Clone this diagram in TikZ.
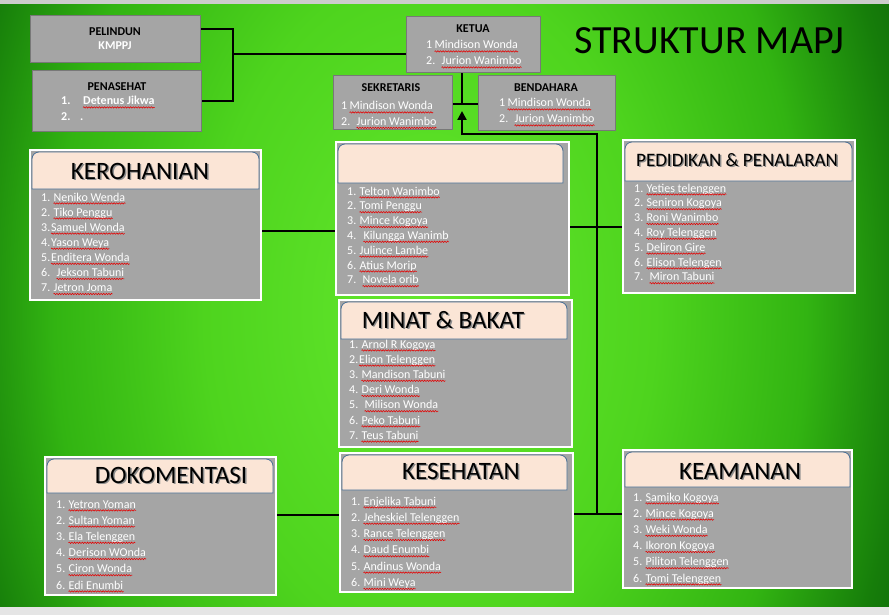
\documentclass[tikz,border=0pt]{standalone}
\usepackage{fontspec}
\setmainfont{Carlito}
\usetikzlibrary{arrows.meta,decorations.pathmorphing}
\definecolor{bgdark}{RGB}{10,88,8}
\definecolor{bgmid1}{RGB}{22,125,10}
\definecolor{bgmid2}{RGB}{50,180,18}
\definecolor{bgmid3}{RGB}{78,212,30}
\definecolor{bglight}{RGB}{100,232,45}
\definecolor{boxgray}{RGB}{165,165,165}
\definecolor{boxedge}{RGB}{120,120,120}
\definecolor{headpink}{RGB}{251,229,214}
\definecolor{headblue}{RGB}{70,110,150}
\definecolor{shadowgray}{RGB}{140,140,140}
\pgfdeclareradialshading{bgshade}{\pgfpoint{0bp}{0bp}}{color(0bp)=(bglight); color(12bp)=(bgmid3); color(20bp)=(bgmid2); color(25.5bp)=(bgmid1); color(30.5bp)=(bgdark); color(50bp)=(bgdark)}
\pgfdeclarelayer{back}
\pgfdeclarelayer{lnk}
\pgfsetlayers{back,lnk,main}
\tikzset{
  smallbox/.style={draw=boxedge, line width=0.8pt, fill=boxgray, inner sep=0pt, outer sep=0pt, anchor=north west},
  panelbox/.style={draw=white, line width=2pt, fill=boxgray, inner sep=0pt, outer sep=0pt, anchor=north west},
  headbox/.style={draw=headblue, line width=0.8pt, fill=headpink},
  ttlmain/.style={text=black, inner sep=0pt},
  ttlshade/.style={text=shadowgray, inner sep=0pt},
  itemtext/.style={font=\fontsize{12}{14}\selectfont, text=white, inner sep=0pt, anchor=base west},
  stitle/.style={font=\bfseries\fontsize{12}{14}\selectfont, text=black, inner sep=0pt},
  boldwhite/.style={font=\bfseries\fontsize{12}{14}\selectfont, text=white, inner sep=0pt, anchor=base west},
  wavy/.style={red!90!black, line width=0.55pt, decorate, decoration={snake, amplitude=0.7pt, segment length=2.6pt}},
  linkline/.style={line width=2.6pt, black},
}
\newcommand\mkpanel[7]{%
  \node[panelbox, minimum width={(#4-#2)*1pt}, minimum height={(#5-#3)*1pt}] (#1) at (#2,#3) {};
  \draw[headbox] (#2+2,#6) -- (#2+2,#3+9) to[out=90,in=180] (#2+9,#3+2) -- (#7-7,#3+2) to[out=0,in=90] (#7,#3+9) -- (#7,#6) -- cycle;
}
\newcommand\mktitle[5]{%
  \node[ttlshade, font=\fontsize{#4}{#4}\selectfont] (#1s) at (#2+1.4,#3+1.4) {#5};
  \node[ttlmain, font=\fontsize{#4}{#4}\selectfont] (#1) at (#2,#3) {#5};
}
\newcommand\mklist[5]{%
  \foreach \inum/\igap/\itxt [count=\ii] in {#5} {%
    \node[itemtext] (#1n\ii) at (#2,{#3+4+(\ii-1)*#4}) {\inum};
    \node[itemtext] (#1t\ii) at ([xshift=\igap pt]#1n\ii.base east) {\itxt};
    \draw[wavy] ([yshift=-2.4pt]#1t\ii.base west) -- ([yshift=-2.4pt]#1t\ii.base east);
  }%
}
\begin{document}
\begin{tikzpicture}[x=1pt,y=-1pt]
\useasboundingbox (0,0) rectangle (889,615);
\begin{pgfonlayer}{back}
  \fill[bgdark] (0,0) rectangle (889,615);
  \begin{scope}
    \clip (0,0) rectangle (889,615);
    \begin{scope}[transform canvas={shift={(430,310)}, yscale=1.5}]
      \shade[shading=bgshade] (-470,-470) rectangle (470,470);
    \end{scope}
  \end{scope}
  \fill[gray!40] (0,0) rectangle (889,4);
  \fill[gray!20] (0,607) rectangle (889,615);
\end{pgfonlayer}

% title
\node[ttlmain, font=\fontsize{40}{40}\selectfont] (title) at (709,41) {STRUKTUR MAPJ};

% top small boxes
\node[smallbox, minimum width=170pt, minimum height=47pt] (pel) at (30,15) {};
\node[smallbox, minimum width=169pt, minimum height=61pt] (pen) at (32,70) {};
\node[smallbox, minimum width=134pt, minimum height=56pt] (ket) at (406,16) {};
\node[smallbox, minimum width=119pt, minimum height=54pt] (sek) at (333,75) {};
\node[smallbox, minimum width=137pt, minimum height=55pt] (ben) at (478,75) {};

\node[stitle] (pelt) at (115,32) {PELINDUN};
\node[stitle, text=white] (pelk) at (115,46) {KMPPJ};
\node[stitle] (pent) at (117,87) {PENASEHAT};
\node[boldwhite] (pn1) at (61,105) {1.};
\node[boldwhite] (pn1t) at (83,105) {Detenus Jikwa};
\draw[wavy] ([yshift=-2.4pt]pn1t.base west) -- ([yshift=-2.4pt]pn1t.base east);
\node[boldwhite] (pn2) at (61,121) {2.};
\node[boldwhite] (pn2t) at (80,121) {.};

\node[stitle] (kett) at (473,29) {KETUA};
\mklist{ket}{426}{45}{16}{1/2/Mindison Wonda, 2./6/Jurion Wanimbo}
\node[stitle] (sekt) at (391,88) {SEKRETARIS};
\begin{scope}
  \clip (333,75) rectangle (452,129);
  \mklist{sek}{341}{106}{15.5}{1/2/Mindison Wonda, 2./6/Jurion Wanimbo}
\end{scope}
\node[stitle] (bent) at (546,88) {BENDAHARA};
\mklist{ben}{499}{103}{16}{1/2/Mindison Wonda, 2./6/Jurion Wanimbo}

% panels
\mkpanel{ker}{30}{150}{261}{300}{189}{259}
\mkpanel{mid}{336}{142}{569}{295}{183}{563}
\mkpanel{ped}{623}{140}{855}{293}{181}{852}
\mkpanel{min}{339}{300}{572}{447}{339}{567}
\mkpanel{dok}{45}{457}{276}{595}{493}{273}
\mkpanel{kes}{340}{453}{573}{592}{490}{567}
\mkpanel{kea}{623}{450}{852}{588}{487}{850}

\mktitle{kert}{140}{171}{25}{KEROHANIAN}
\mktitle{pedt}{737}{160}{19}{PEDIDIKAN \& PENALARAN}
\mktitle{mint}{443}{320}{25}{MINAT \& BAKAT}
\mktitle{dokt}{171}{475}{25}{DOKOMENTASI}
\mktitle{kest}{461}{471}{25}{KESEHATAN}
\mktitle{keat}{740}{471}{25}{KEAMANAN}

\mklist{kl}{41}{197}{15.1}{1./3/Neniko Wenda, 2./3/Tiko Penggu, 3./0.5/Samuel Wonda, 4./0.5/Yason Weya, 5./0.5/Enditera Wonda, 6./6/Jekson Tabuni, 7./3/Jetron Joma}
\mklist{ml}{347}{191}{14.8}{1./3/Telton Wanimbo, 2./3/Tomi Penggu, 3./3/Mince Kogoya, 4./7/Kilungga Wanimb, 5./3/Julince Lambe, 6./3/Atius Morip, 7./6/Novela orib}
\mklist{pl}{634}{188}{14.8}{1./3/Yeties telenggen, 2./3/Seniron Kogoya, 3./3/Roni Wanimbo, 4./3/Roy Telenggen, 5./3/Deliron Gire, 6./3/Elison Telengen, 7./6/Miron Tabuni}
\mklist{bl}{349}{344}{15.2}{1./3/Arnol R Kogoya, 2./0.5/Elion Telenggen, 3./3/Mandison Tabuni, 4./3/Deri Wonda, 5./6/Milison Wonda, 6./3/Peko Tabuni, 7./3/Teus Tabuni}
\mklist{dl}{56}{504}{16.2}{1./3/Yetron Yoman, 2./3/Sultan Yoman, 3./3/Ela Telenggen, 4./3/Derison WOnda, 5./3/Ciron Wonda, 6./3/Edi Enumbi}
\mklist{sl}{351}{501}{16.3}{1./3/Enjelika Tabuni, 2./3/Jeheskiel Telenggen, 3./3/Rance Telenggen, 4./3/Daud Enumbi, 5./3/Andinus Wonda, 6./3/Mini Weya}
\mklist{al}{633}{497}{16.2}{1./3/Samiko Kogoya, 2./3/Mince Kogoya, 3./3/Weki Wonda, 4./3/Ikoron Kogoya, 5./3/Piliton Telenggen, 6./3/Tomi Telenggen}

% connectors
\begin{pgfonlayer}{lnk}
  \coordinate (j1) at (233,54);
  \draw[linkline] (pel.east |- 0,29) -| (j1) |- (pen.east |- 0,101);
  \draw[linkline] (j1) -- (ket.west |- j1);
  \coordinate (tb) at (462,104);
  \draw[linkline] (ket.south -| tb) -- (tb);
  \draw[linkline] (sek.east |- tb) -- (ben.west |- tb);
  \coordinate (jb) at (597,514);
  \draw[linkline, -{Triangle[length=9pt,width=9pt]}] (jb) |- (462,134) -- (462,111);
  \draw[linkline] (ker.east |- 0,231) -- (mid.west |- 0,231);
  \draw[linkline] (mid.east |- 0,227) -- (ped.west |- 0,227);
  \draw[linkline] (dok.east |- 0,515) -- (kes.west |- 0,515);
  \draw[linkline] (kes.east |- 0,514) -- (kea.west |- 0,514);
\end{pgfonlayer}
\end{tikzpicture}
\end{document}
